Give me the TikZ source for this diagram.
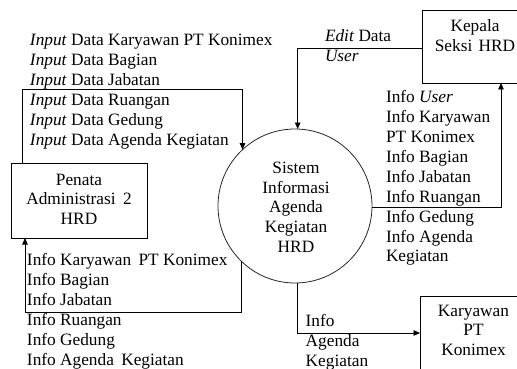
\documentclass[tikz,border=0pt]{standalone}
\usepackage{fontspec}
\setmainfont{Liberation Serif}
\usetikzlibrary{arrows.meta}
\newcommand{\diafont}{\fontsize{17.3}{19.9}\selectfont}
\begin{document}
\begin{tikzpicture}[x=1pt,y=-1pt,
  txt/.style={inner sep=0pt, outer sep=0pt, font=\diafont},
  lbl/.style={txt, anchor=base west},
  ctr/.style={txt, anchor=base},
  box/.style={draw, line width=0.9pt, rectangle, inner sep=0pt, outer sep=0pt},
  flow/.style={draw, line width=0.9pt, -{Triangle[length=6.5pt,width=5.5pt]}}]
\useasboundingbox (0,0) rectangle (517,369);
\clip (0,0) rectangle (517,369);

% boxes and process
\node[box, minimum width=136pt, minimum height=75pt] (penata) at (79,200.5) {};
\node[box, minimum width=110pt, minimum height=73pt] (kepala) at (477,46.5) {};
\node[box, minimum width=110pt, minimum height=74pt] (kary) at (475,333) {};
\node[draw=black!85, circle, minimum size=154pt, inner sep=0pt, outer sep=0pt, line width=0.8pt] (sys) at (295,206) {};

% box texts
\node[ctr] (pen1) at (79,185) {Penata};
\node[ctr] (pen2) at (79,204.6) {Administrasi\hspace{3pt} 2};
\node[ctr] (pen3) at (79,224.2) {HRD};
\node[ctr] (kep1) at (475,31.7) {Kepala};
\node[ctr] (kep2) at (475,51.7) {Seksi\hspace{2pt} HRD};
\node[ctr] (kar1) at (473.5,316) {Karyawan};
\node[ctr] (kar2) at (473.5,335.9) {PT};
\node[ctr] (kar3) at (473.5,355.8) {Konimex};
\node[ctr] (sys1) at (296,173.3) {Sistem};
\node[ctr] (sys2) at (296,193) {Informasi};
\node[ctr] (sys3) at (296,212.7) {Agenda};
\node[ctr] (sys4) at (296,232.4) {Kegiatan};
\node[ctr] (sys5) at (296,252.1) {HRD};

% flow labels: input
\node[lbl] (inp1) at (30,45.7) {\textit{Input} Data Karyawan PT Konimex};
\node[lbl] (inp2) at (30,65.6) {\textit{Input} Data Bagian};
\node[lbl] (inp3) at (30,85.5) {\textit{Input} Data Jabatan};
\node[lbl] (inp4) at (30,105.4) {\textit{Input} Data Ruangan};
\node[lbl] (inp5) at (30,125.3) {\textit{Input} Data Gedung};
\node[lbl] (inp6) at (30,145.2) {\textit{Input} Data Agenda Kegiatan};
% info to penata
\node[lbl] (ipn1) at (27,265.7) {Info Karyawan\hspace{3pt} PT Konimex};
\node[lbl] (ipn2) at (27,285.6) {Info Bagian};
\node[lbl] (ipn3) at (27,305.5) {Info Jabatan};
\node[lbl] (ipn4) at (27,325.4) {Info Ruangan};
\node[lbl] (ipn5) at (27,345.3) {Info Gedung};
\node[lbl] (ipn6) at (27,365.2) {Info Agenda\hspace{3pt} Kegiatan};
% info to kepala
\node[lbl] (ikp1) at (386,102.7) {Info \textit{User}};
\node[lbl] (ikp2) at (386,122.6) {Info Karyawan};
\node[lbl] (ikp3) at (386,142.5) {PT Konimex};
\node[lbl] (ikp4) at (386,162.4) {Info Bagian};
\node[lbl] (ikp5) at (386,182.3) {Info Jabatan};
\node[lbl] (ikp6) at (386,202.2) {Info Ruangan};
\node[lbl] (ikp7) at (386,222.1) {Info Gedung};
\node[lbl] (ikp8) at (386,242.0) {Info Agenda};
\node[lbl] (ikp9) at (386,261.9) {Kegiatan};
% edit
\node[lbl] (edt1) at (325,41.7) {\textit{Edit} Data};
\node[lbl] (edt2) at (325,61.5) {\textit{User}};
% info agenda
\node[lbl] (iag1) at (305.7,326.7) {Info};
\node[lbl] (iag2) at (305.7,346.4) {Agenda};
\node[lbl] (iag3) at (305.7,366.1) {Kegiatan};

% connectors
\coordinate (inptop) at (0,89);
\coordinate (infobot) at (0,312);
\draw[flow] ([xshift=11pt]penata.north west) -- ([xshift=11pt]penata.north west |- inptop) -| (sys.133.5);
\draw[flow] (sys.226.5) -- (sys.226.5 |- infobot) -| ([xshift=14pt]penata.south west);
\draw[flow] ([yshift=-1.5pt]kepala.west) -| (sys.88.5);
\draw[flow] (sys.-1.5) -| ([xshift=79pt]kepala.south west);
\draw[flow] (sys.-88.5) |- (kary.west);
\end{tikzpicture}
\end{document}
